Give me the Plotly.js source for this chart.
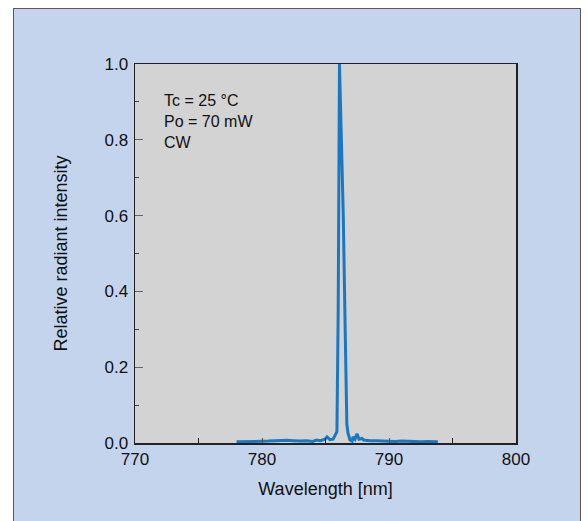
<!DOCTYPE html>
<html><head><meta charset="utf-8">
<script src="https://cdn.plot.ly/plotly-3.0.1.min.js"></script>
<style>
html,body{margin:0;padding:0;background:#ffffff;width:587px;height:521px;overflow:hidden;}
#frame{position:absolute;left:13px;top:8px;width:568px;height:530px;background:#c5d4ed;border:1.5px solid #5a5a5a;box-sizing:border-box;}
#plot{position:absolute;left:0;top:0;width:587px;height:521px;}
</style></head>
<body>
<div id="frame"></div>
<div id="plot"></div>
<script>
const wavelength = [778.0, 778.5, 779.0, 779.5, 780.0, 780.5, 781.0, 781.5, 782.0, 782.5, 783.0, 783.5, 784.0, 784.3, 784.6, 784.95, 785.12, 785.35, 785.6, 785.75, 785.9, 786.0, 786.1, 786.25, 786.4, 786.55, 786.68, 786.77, 786.93, 787.09, 787.17, 787.32, 787.48, 787.64, 787.87, 788.0, 788.5, 789.0, 789.5, 790.0, 790.5, 791.0, 791.5, 792.0, 792.5, 793.0, 793.5, 793.85];
const intensity  = [0.003, 0.003, 0.003, 0.004, 0.004, 0.005, 0.006, 0.007, 0.007, 0.006, 0.005, 0.006, 0.004, 0.008, 0.006, 0.010, 0.016, 0.009, 0.010, 0.020, 0.030, 0.35, 1.0, 0.80, 0.60, 0.30, 0.05, 0.026, 0.008, 0.005, 0.016, 0.010, 0.024, 0.010, 0.012, 0.008, 0.006, 0.006, 0.005, 0.004, 0.004, 0.005, 0.004, 0.004, 0.003, 0.004, 0.003, 0.003];
const xTickVals = [770, 780, 790, 800];
const yTickVals = [0.0, 0.2, 0.4, 0.6, 0.8, 1.0];
const noteLines = ["Tc = 25 °C", "Po = 70 mW", "CW"];

const fam = '"Liberation Sans", Arial, sans-serif';
const tickFont = {family: fam, size: 17, color: '#111'};
const titleFont = {family: fam, size: 18, color: '#111'};

Plotly.newPlot('plot', [{
  x: wavelength, y: intensity, type: 'scatter', mode: 'lines',
  line: {color: '#1a78c2', width: 3}, hoverinfo: 'skip'
}], {
  width: 587, height: 521,
  margin: {l: 135, r: 71, t: 64, b: 78},
  paper_bgcolor: 'rgba(0,0,0,0)', plot_bgcolor: '#d3d3d3',
  font: tickFont, showlegend: false,
  xaxis: {
    range: [770, 800], tickvals: xTickVals, ticktext: xTickVals.map(String),
    ticks: 'inside', ticklen: 5, tickcolor: '#555', showgrid: false, zeroline: false,
    showline: true, linecolor: '#222', linewidth: 1.5, mirror: true, tickfont: tickFont,
    minor: {dtick: 5, tick0: 770, ticks: 'inside', ticklen: 5, tickcolor: '#222', showgrid: false},
    title: {text: 'Wavelength [nm]', font: titleFont, standoff: 14}
  },
  yaxis: {
    range: [0, 1.0], tickvals: yTickVals, ticktext: yTickVals.map(v => v.toFixed(1)),
    ticks: 'inside', ticklen: 8, tickcolor: '#666', showgrid: false, zeroline: false,
    showline: true, linecolor: '#222', linewidth: 1.5, mirror: true, tickfont: tickFont,
    ticklabelstandoff: 2,
    minor: {dtick: 0.1, tick0: 0, ticks: 'inside', ticklen: 4, tickcolor: '#444', showgrid: false},
    title: {text: 'Relative radiant intensity', font: titleFont, standoff: 32}
  },
  annotations: [{
    xref: 'paper', yref: 'paper', x: 0.072, y: 0.932, xanchor: 'left', yanchor: 'top',
    text: noteLines.join('<br>'), align: 'left', showarrow: false,
    font: {family: fam, size: 16, color: '#111'}
  }]
}, {staticPlot: true});
</script>
</body></html>
